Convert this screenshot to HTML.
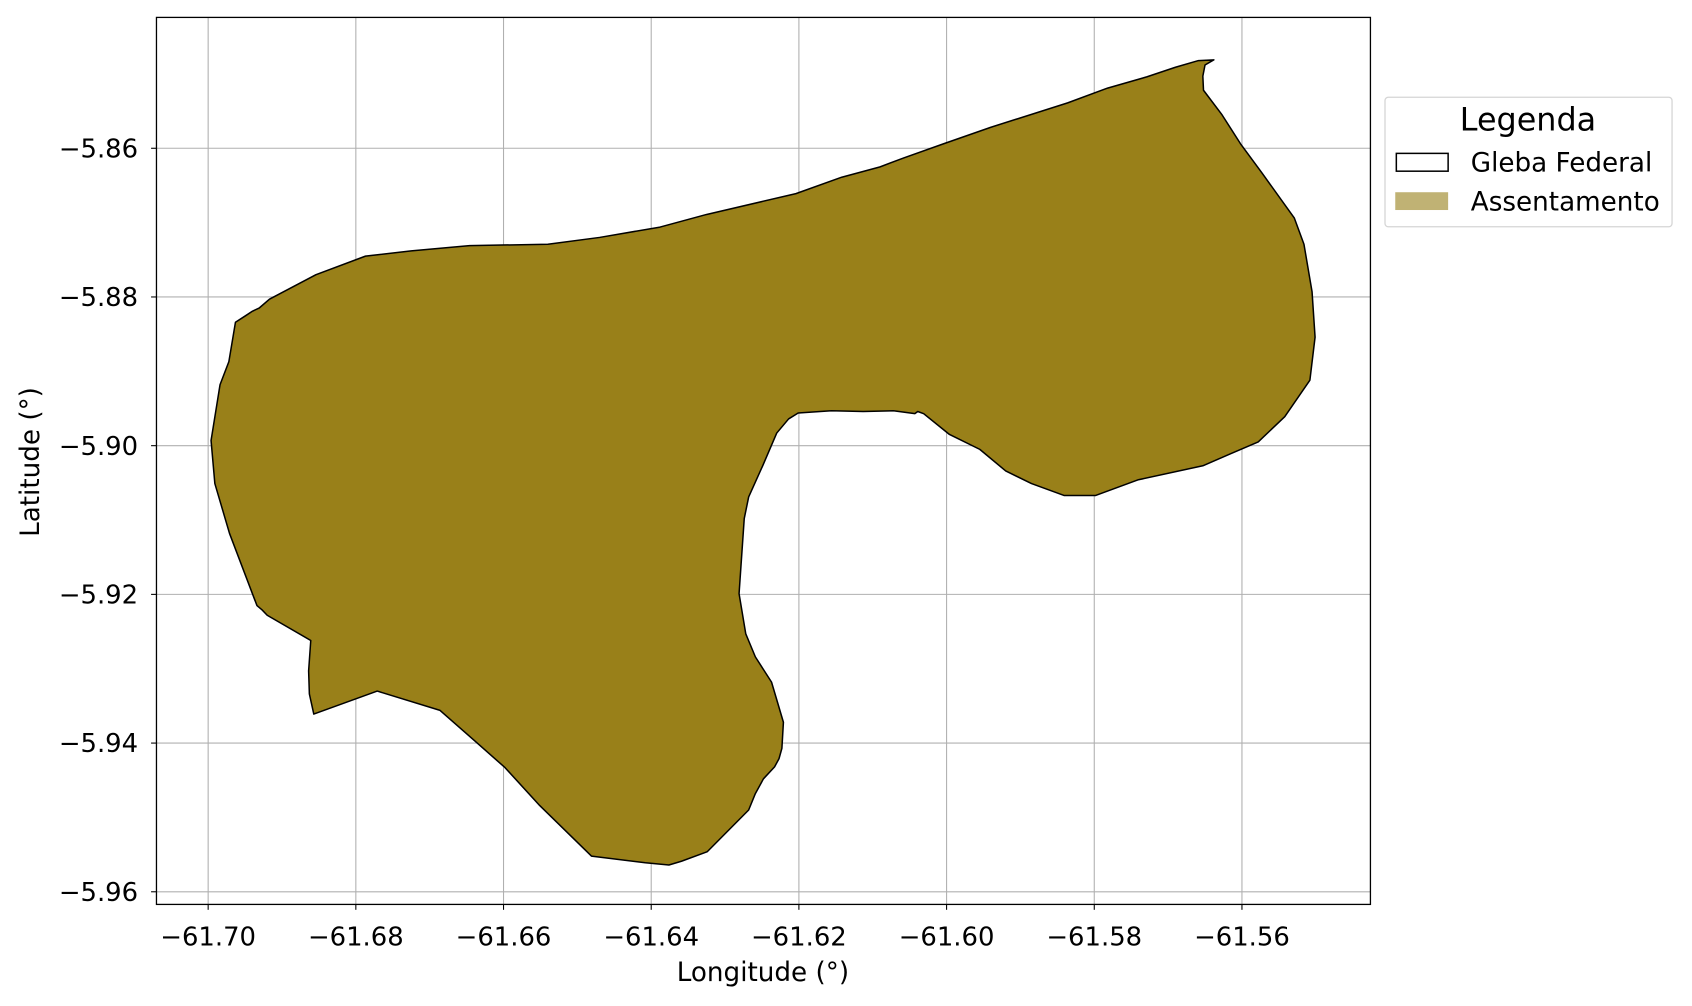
<!DOCTYPE html>
<html><head><meta charset="utf-8"><style>
html,body{margin:0;padding:0;background:#fff;}
svg{display:block;font-family:"DejaVu Sans","Liberation Sans",sans-serif;}
</style></head><body>
<svg id="chart" width="1692" height="1006" viewBox="0 0 1568 932">
<g id="grid"></g>
<g id="shapes"></g>
<rect x="145" y="16" width="1125" height="822" fill="none" stroke="#000" stroke-width="1.2"/>
<g id="ticks"></g>
<text x="707" y="909" font-size="24.3" text-anchor="middle">Longitude (°)</text>
<text transform="translate(36,428) rotate(-90)" font-size="24.3" text-anchor="middle">Latitude (°)</text>
<g>
<rect x="1283.5" y="90" width="266" height="120" rx="3" fill="#fff" stroke="#d5d5d5" stroke-width="1.2"/>
<text x="1416" y="121" font-size="29.5" text-anchor="middle">Legenda</text>
<rect x="1294" y="142" width="48" height="16.5" fill="#fff" stroke="#000" stroke-width="1.4"/>
<text x="1363" y="159" font-size="24.3">Gleba Federal</text>
<rect x="1293" y="178" width="49" height="16.5" fill="#c0b274"/>
<text x="1363" y="195" font-size="24.3">Assentamento</text>
</g>
</svg>
<script>
const lons=[-61.5638,-61.5650,-61.5653,-61.5652,-61.5627,-61.5602,-61.5573,-61.5529,-61.5516,-61.5505,-61.5501,-61.5508,-61.5542,-61.5578,-61.5616,-61.5653,-61.5741,-61.5798,-61.5841,-61.5885,-61.5920,-61.5955,-61.5996,-61.6031,-61.6039,-61.6043,-61.6072,-61.6113,-61.6156,-61.6201,-61.6214,-61.6230,-61.6249,-61.6268,-61.6274,-61.6281,-61.6272,-61.6259,-61.6237,-61.6221,-61.6223,-61.6227,-61.6233,-61.6248,-61.6259,-61.6268,-61.6324,-61.6359,-61.6376,-61.6408,-61.6481,-61.6551,-61.6598,-61.6639,-61.6686,-61.6771,-61.6857,-61.6863,-61.6864,-61.6861,-61.6920,-61.6927,-61.6934,-61.6971,-61.6991,-61.6996,-61.6984,-61.6972,-61.6963,-61.6949,-61.6940,-61.6931,-61.6917,-61.6854,-61.6787,-61.6725,-61.6646,-61.6540,-61.6470,-61.6388,-61.6325,-61.6204,-61.6142,-61.6090,-61.6058,-61.6004,-61.5941,-61.5836,-61.5782,-61.5729,-61.5690,-61.5659];
const lats=[-5.8481,-5.8488,-5.8503,-5.8522,-5.8555,-5.8594,-5.8633,-5.8694,-5.8729,-5.8793,-5.8854,-5.8912,-5.8961,-5.8995,-5.9011,-5.9027,-5.9046,-5.9067,-5.9067,-5.9051,-5.9034,-5.9005,-5.8985,-5.8957,-5.8954,-5.8957,-5.8953,-5.8954,-5.8953,-5.8956,-5.8964,-5.8983,-5.9027,-5.9069,-5.9098,-5.9199,-5.9253,-5.9284,-5.9318,-5.9372,-5.9407,-5.9421,-5.9432,-5.9448,-5.9468,-5.9490,-5.9546,-5.9559,-5.9564,-5.9561,-5.9552,-5.9484,-5.9433,-5.9397,-5.9356,-5.9330,-5.9361,-5.9334,-5.9303,-5.9262,-5.9228,-5.9221,-5.9215,-5.9118,-5.9051,-5.8993,-5.8918,-5.8887,-5.8834,-5.8825,-5.8819,-5.8815,-5.8803,-5.8770,-5.8745,-5.8738,-5.8731,-5.8729,-5.8720,-5.8706,-5.8689,-5.8661,-5.8639,-5.8625,-5.8613,-5.8594,-5.8572,-5.8539,-5.8519,-5.8504,-5.8491,-5.8482];
const xTicks=[-61.70,-61.68,-61.66,-61.64,-61.62,-61.60,-61.58,-61.56];
const yTicks=[-5.86,-5.88,-5.90,-5.92,-5.94,-5.96];
const xMin=-61.7070,xMax=-61.5426,yMin=-5.9617,yMax=-5.8424;
const L=145,R=1270,T=16,B=838;
function sx(v){return L+(v-xMin)/(xMax-xMin)*(R-L);}
function sy(v){return B-(v-yMin)/(yMax-yMin)*(B-T);}
const NS='http://www.w3.org/2000/svg';
function mk(tag,attrs,parent){const e=document.createElementNS(NS,tag);for(const k in attrs)e.setAttribute(k,attrs[k]);parent.appendChild(e);return e;}
const grid=document.getElementById('grid'),ticks=document.getElementById('ticks'),shapes=document.getElementById('shapes');
xTicks.forEach(v=>{const x=sx(v);
 const g=mk('line',{x1:x,x2:x,y1:T,y2:B,stroke:'#b0b0b0','stroke-width':1},grid);
 
 
 const t=mk('line',{x1:x,x2:x,y1:B,y2:B+5,stroke:'#000','stroke-width':1},ticks);
 
 
 const l=mk('text',{x:x,y:B+38,'font-size':24,'text-anchor':'middle'},ticks);
 l.textContent='\u2212'+Math.abs(v).toFixed(2);
 
 
});
yTicks.forEach(v=>{const y=sy(v);
 const g=mk('line',{x1:L,x2:R,y1:y,y2:y,stroke:'#b0b0b0','stroke-width':1},grid);
 
 
 const t=mk('line',{x1:L-5,x2:L,y1:y,y2:y,stroke:'#000','stroke-width':1},ticks);
 
 
 const l=mk('text',{x:L-17,y:y+8.5,'font-size':24,'text-anchor':'end'},ticks);
 l.textContent='\u2212'+Math.abs(v).toFixed(2);
 
 
});
const pts=lons.map((v,i)=>sx(v).toFixed(1)+','+sy(lats[i]).toFixed(1)).join(' ');
const p=mk('polygon',{points:pts,fill:'#998019',stroke:'#000','stroke-width':1.4,'stroke-linejoin':'round'},shapes);


</script>
</body></html>
